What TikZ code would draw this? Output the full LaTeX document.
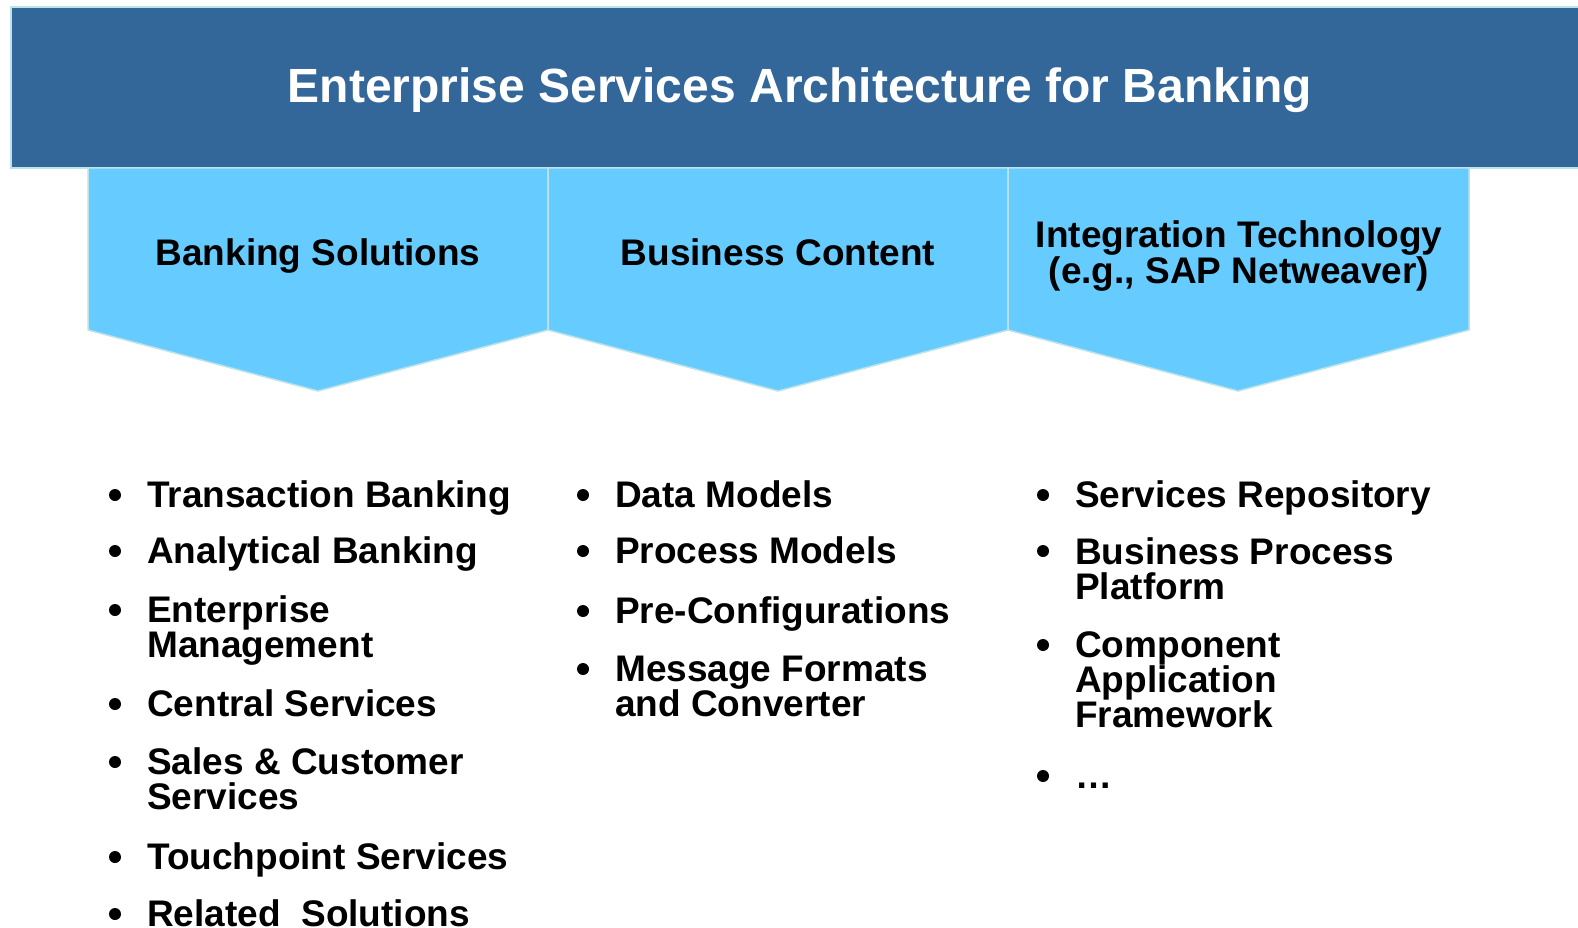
\documentclass[tikz,border=0pt]{standalone}
\usepackage{fontspec}
\setmainfont{Liberation Sans}
\definecolor{banner}{RGB}{51,102,153}
\definecolor{chev}{RGB}{102,204,255}
\definecolor{edgeblue}{RGB}{188,226,234}
\begin{document}
\begin{tikzpicture}[x=1pt,y=-1pt,
  bannerbox/.style={fill=banner,draw=edgeblue,line width=2pt},
  chevbox/.style={fill=chev,draw=edgeblue,line width=1.5pt,line join=miter},
  headtxt/.style={font=\bfseries\fontsize{37}{34}\selectfont,align=center,anchor=base,inner sep=0pt},
  itemtxt/.style={font=\bfseries\fontsize{37}{35}\selectfont,align=left,anchor=base west,inner sep=0pt},
  dot/.style={fill=black,draw=none}]
\useasboundingbox (0,0) rectangle (1578,928);
\fill[white] (0,0) rectangle (1578,928);
% banner
\draw[bannerbox] (11,7) rectangle (1590,168);
\node[anchor=base,inner sep=0pt,text=white,font=\bfseries\fontsize{48}{50}\selectfont] (title) at (800,103) {Enterprise Services Architecture for Banking};
% chevrons
\draw[chevbox] (88,168) -- (548,168) -- (548,330) -- (318,391) -- (88,330) -- cycle;
\draw[chevbox] (548,168) -- (1008,168) -- (1008,330) -- (778,391) -- (548,330) -- cycle;
\draw[chevbox] (1008,168) -- (1469,168) -- (1469,330) -- (1238,391) -- (1008,330) -- cycle;
\node[headtxt] (h1) at (318,265) {Banking Solutions};
\node[headtxt] (h2) at (778,265) {Business Content};
\node[headtxt] (h3) at (1239,283) {Integration Technology\\(e.g., SAP Netweaver)};
% column 1
\foreach \y in {507,563,622,716,774,869,926} {\fill[dot] (115,\y-12) circle (6);}
\node[itemtxt] (a1) at (147,507) {Transaction Banking};
\node[itemtxt] (a2) at (147,563) {Analytical Banking};
\node[itemtxt] (a3) at (147,657) {Enterprise\\Management};
\node[itemtxt] (a4) at (147,716) {Central Services};
\node[itemtxt] (a5) at (147,809) {Sales \& Customer\\Services};
\node[itemtxt] (a6) at (147,869) {Touchpoint Services};
\node[itemtxt] (a7) at (147,926) {Related\ \ Solutions};
% column 2
\foreach \y in {507,563,623,681} {\fill[dot] (583,\y-12) circle (6);}
\node[itemtxt] (b1) at (615,507) {Data Models};
\node[itemtxt] (b2) at (615,563) {Process Models};
\node[itemtxt] (b3) at (615,623) {Pre-Configurations};
\node[itemtxt] (b4) at (615,716) {Message Formats\\and Converter};
% column 3
\foreach \y in {507,563,657,788} {\fill[dot] (1043,\y-12) circle (6);}
\node[itemtxt] (c1) at (1075,507) {Services Repository};
\node[itemtxt] (c2) at (1075,599) {Business Process\\Platform};
\node[itemtxt] (c3) at (1075,727) {Component\\Application\\Framework};
\node[itemtxt] (c4) at (1075,788) {\ldots};
\end{tikzpicture}
\end{document}
